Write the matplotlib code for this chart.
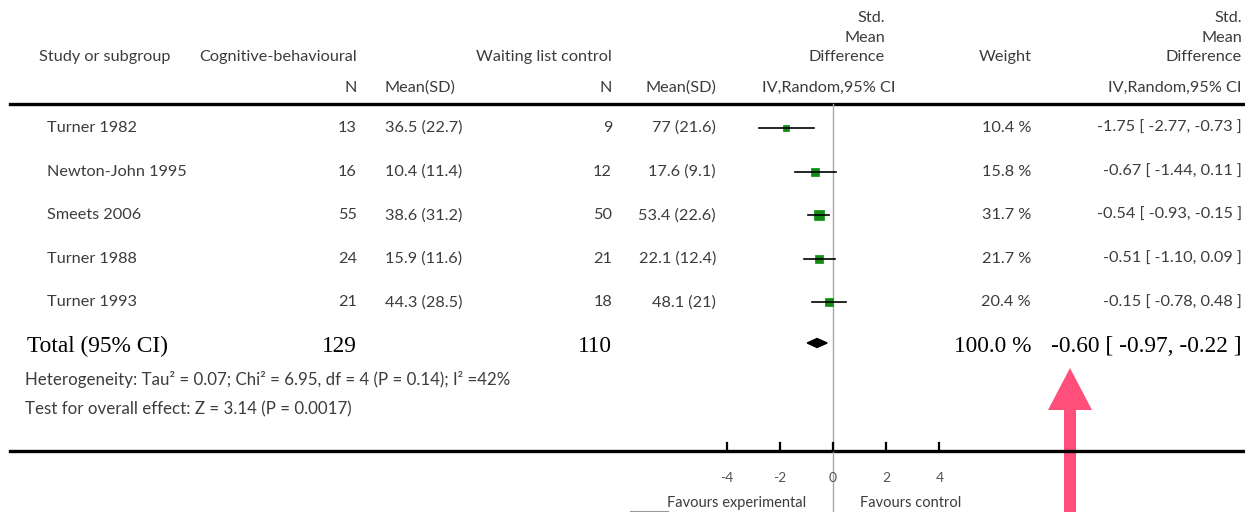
import matplotlib
matplotlib.use("Agg")
import matplotlib.pyplot as plt
from matplotlib.patches import Polygon, FancyArrow

# data
studies = ["Turner 1982", "Newton-John 1995", "Smeets 2006", "Turner 1988", "Turner 1993"]
n_cbt = [13, 16, 55, 24, 21]
mean_cbt = [36.5, 10.4, 38.6, 15.9, 44.3]
sd_cbt = [22.7, 11.4, 31.2, 11.6, 28.5]
n_wl = [9, 12, 50, 21, 18]
mean_wl = [77, 17.6, 53.4, 22.1, 48.1]
sd_wl = [21.6, 9.1, 22.6, 12.4, 21]
weights = [10.4, 15.8, 31.7, 21.7, 20.4]
smd = [-1.75, -0.67, -0.54, -0.51, -0.15]
ci_lo = [-2.77, -1.44, -0.93, -1.10, -0.78]
ci_hi = [-0.73, 0.11, -0.15, 0.09, 0.48]
total_n_cbt = 129
total_n_wl = 110
total_weight = 100.0
total_smd = -0.60
total_lo = -0.97
total_hi = -0.22
ticks = [-4, -2, 0, 2, 4]
heterogeneity = "Heterogeneity: Tau² = 0.07; Chi² = 6.95, df = 4 (P = 0.14); I² =42%"
overall = "Test for overall effect: Z = 3.14 (P = 0.0017)"

W, H = 1245, 512
fig = plt.figure(figsize=(W / 100, H / 100), dpi=100)

# layout axes in pixel units
ax = fig.add_axes([0, 0, 1, 1])
ax.set_xlim(0, W)
ax.set_ylim(H, 0)
ax.axis("off")

# forest axes: zero at x=833, 26.6 px per unit
zero_px, px_unit = 833, 26.6
axf = fig.add_axes([0, 0, 1, 1])
axf.set_xlim(-zero_px / px_unit, (W - zero_px) / px_unit)
axf.set_ylim(H, 0)
axf.axis("off")

sans = "Lato"
serif = "Liberation Serif"
grey = "#3c3c3c"
fs = 11.7

def t(x, y, s, ha="left", **kw):
    kw.setdefault("fontsize", fs)
    kw.setdefault("family", sans)
    kw.setdefault("color", grey)
    ax.text(x, y, s, ha=ha, va="center", **kw)

# header
t(39, 57, "Study or subgroup")
t(199, 57, "Cognitive-behavioural")
t(476, 57, "Waiting list control")
t(885, 18, "Std.", ha="right")
t(885, 38, "Mean", ha="right")
t(885, 57, "Difference", ha="right")
t(1005, 57, "Weight", ha="center")
t(1242, 18, "Std.", ha="right")
t(1242, 38, "Mean", ha="right")
t(1242, 57, "Difference", ha="right")
t(357, 88, "N", ha="right")
t(385, 88, "Mean(SD)")
t(612, 88, "N", ha="right")
t(716, 88, "Mean(SD)", ha="right")
t(829, 88, "IV,Random,95% CI", ha="center")
t(1242, 88, "IV,Random,95% CI", ha="right")

ax.plot([10, W], [104, 104], color="black", lw=2.4)
ax.plot([10, W], [451, 451], color="black", lw=2.4)
axf.plot([0, 0], [104, H], color="#a8a8a8", lw=1)

row0, row_h = 128, 43.6
for i, name in enumerate(studies):
    y = row0 + i * row_h
    t(47, y, name)
    t(357, y, str(n_cbt[i]), ha="right")
    t(385, y, f"{mean_cbt[i]:g} ({sd_cbt[i]:g})")
    t(612, y, str(n_wl[i]), ha="right")
    t(716, y, f"{mean_wl[i]:g} ({sd_wl[i]:g})", ha="right")
    t(1031, y, f"{weights[i]:.1f} %", ha="right")
    t(1242, y, f"{smd[i]:.2f} [ {ci_lo[i]:.2f}, {ci_hi[i]:.2f} ]", ha="right")
    side = 1.9 * weights[i] ** 0.5
    axf.plot([smd[i]], [y], marker="s", markersize=side * 0.72, zorder=2,
             markerfacecolor="#138a13", markeredgecolor="#1e9a1e", markeredgewidth=0.6)
    axf.plot([ci_lo[i], ci_hi[i]], [y, y], color="black", lw=1.2, zorder=3)

# total row
yt = 346
tk = dict(family=serif, fontsize=16.8, color="black")
t(27, yt, "Total (95% CI)", **tk)
t(357, yt, str(total_n_cbt), ha="right", **tk)
t(612, yt, str(total_n_wl), ha="right", **tk)
t(1031, yt, f"{total_weight:.1f} %", ha="right", **tk)
t(1242, yt, f"{total_smd:.2f} [ {total_lo:.2f}, {total_hi:.2f} ]", ha="right", **tk)
dh = 4.5
axf.add_patch(Polygon([[total_lo, yt - 3], [total_smd, yt - 3 - dh], [total_hi, yt - 3],
                       [total_smd, yt - 3 + dh]], closed=True, color="black"))

t(25, 379, heterogeneity, fontsize=12.2)
t(25, 409, overall, fontsize=12.2)

# axis ticks
for v in ticks:
    axf.plot([v, v], [443, 451], color="black", lw=1.6)
    axf.text(v, 478, str(v), ha="center", va="center", fontsize=10, family=sans, color="#555555")
axf.text(-1, 503, "Favours experimental", ha="right", va="center", fontsize=10.5, family=sans, color=grey)
axf.text(1, 503, "Favours control", ha="left", va="center", fontsize=10.5, family=sans, color=grey)
ax.plot([630, 668], [511, 511], color="#999999", lw=0.8)

# pink arrow
ax.add_patch(FancyArrow(1070, H, 0, -(H - 368), width=12, head_width=44, head_length=42,
                        length_includes_head=True, color="#ff4f7a", lw=0))

fig.savefig("out.png", dpi=100)
